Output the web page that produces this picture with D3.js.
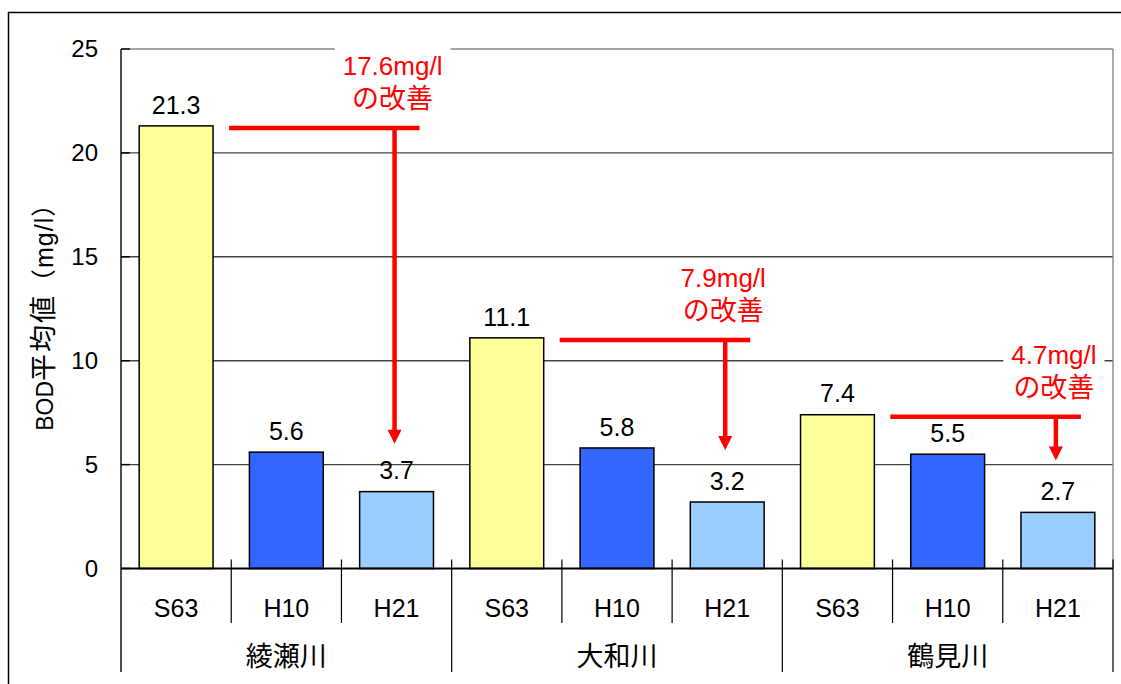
<!DOCTYPE html>
<meta charset="utf-8">
<style>
    body { margin: 0; background: #fff; }
    text { font-family: "Liberation Sans", "Noto Sans CJK JP", sans-serif; fill: #000; }
</style>

<svg width="1121" height="684"></svg>

<script src="https://d3js.org/d3.v7.min.js"></script>

<script>
// BOD averages by river and year
var rivers = ["綾瀬川", "大和川", "鶴見川"];
var years = ["S63", "H10", "H21"];
var ayase = [21.3, 5.6, 3.7];
var yamato = [11.1, 5.8, 3.2];
var tsurumi = [7.4, 5.5, 2.7];
var yearColors = ["#ffff99", "#3366ff", "#99ccff"];
var yTicks = [0, 5, 10, 15, 20, 25];

// improvement callouts: label, level of the bar line, arrow tip level
var gainLabels = ["17.6mg/l", "7.9mg/l", "4.7mg/l"];
var gainFrom = [21.2, 11.0, 7.3];
var gainTo = [6.0, 5.7, 5.2];

var series = [ayase, yamato, tsurumi];
var rows = [];
rivers.forEach(function(r, i) {
    years.forEach(function(y, j) {
        rows.push({ river: r, year: y, value: series[i][j] });
    });
});

// note: "top" is a reserved window global, so use plot* names
var plotL = 121, plotR = 1113, plotT = 49, plotB = 568.5;

var x0 = d3.scaleBand().domain(rivers).range([plotL, plotR]);
var x1 = d3.scaleBand().domain(years).range([0, x0.bandwidth()])
    .paddingInner(0.33).paddingOuter(0.165);
var step = x0.bandwidth() / years.length;
var y = d3.scaleLinear().domain([0, 25]).range([plotB, plotT]);
var color = d3.scaleOrdinal().domain(years).range(yearColors);

var svg = d3.select("svg");

// outer frame
svg.append("rect")
    .attr("x", 8.5).attr("y", 12.5)
    .attr("width", 1140).attr("height", 700)
    .attr("fill", "none").attr("stroke", "#000").attr("stroke-width", 1.5);

// grid
svg.append("g")
    .selectAll("line")
    .data(yTicks.slice(1))
    .enter().append("line")
    .attr("x1", plotL).attr("x2", plotR)
    .attr("y1", function(d) { return y(d); })
    .attr("y2", function(d) { return y(d); })
    .attr("stroke", function(d) { return d === 25 ? "#888" : "#444"; })
    .attr("stroke-width", 1.4);

svg.append("line")
    .attr("x1", plotR).attr("x2", plotR)
    .attr("y1", plotT).attr("y2", plotB)
    .attr("stroke", "#888").attr("stroke-width", 1.4);

// y tick labels + inner ticks
svg.append("g")
    .selectAll("text")
    .data(yTicks)
    .enter().append("text")
    .attr("x", 98)
    .attr("y", function(d) { return y(d); })
    .attr("dy", "0.35em")
    .attr("text-anchor", "end")
    .style("font-size", "24px")
    .text(function(d) { return d; });

svg.append("g")
    .selectAll("line")
    .data(yTicks)
    .enter().append("line")
    .attr("x1", plotL).attr("x2", plotL + 9)
    .attr("y1", function(d) { return y(d); })
    .attr("y2", function(d) { return y(d); })
    .attr("stroke", "#000").attr("stroke-width", 1.4);

var yTitle = svg.append("text")
    .attr("transform", "translate(45," + ((plotT + plotB) / 2 + 2) + ") rotate(-90)")
    .attr("text-anchor", "middle")
    .attr("dy", "0.35em")
    .style("font-size", "23px");
yTitle.append("tspan").text("BOD");
yTitle.append("tspan").style("font-size", "27px").style("letter-spacing", "2px").text("平均値");
yTitle.append("tspan").style("font-size", "25px").style("letter-spacing", "1px").text("（mg/l）");

// callouts (drawn before bars so their white backing only hides grid)
var notes = svg.append("g");
rivers.forEach(function(r, i) {
    var cx = x0(r) + x1("H21") + x1.bandwidth() / 2 - 2;
    var xs = x0(r) + x1("S63") + x1.bandwidth() + 16;
    var ly = y(gainFrom[i]);
    var tip = y(gainTo[i]);

    var lab = notes.append("g");
    var box = lab.append("rect").attr("fill", "#fff");
    var t1 = lab.append("text")
        .attr("x", cx - 2).attr("y", ly - 62).attr("dy", "0.35em")
        .attr("text-anchor", "middle")
        .style("font-size", "26px").style("fill", "#ff0000")
        .text(gainLabels[i]);
    var t2 = lab.append("text")
        .attr("x", cx - 2).attr("y", ly - 29).attr("dy", "0.35em")
        .attr("text-anchor", "middle")
        .style("font-size", "27px").style("fill", "#ff0000")
        .text("の改善");
    var b1 = t1.node().getBBox(), b2 = t2.node().getBBox();
    var bx = Math.min(b1.x, b2.x) - 8, bx2 = Math.max(b1.x + b1.width, b2.x + b2.width) + 8;
    box.attr("x", bx).attr("width", bx2 - bx)
        .attr("y", b1.y - 5).attr("height", (b2.y + b2.height) - b1.y + 5);

    notes.append("line")
        .attr("x1", xs).attr("x2", cx + 25)
        .attr("y1", ly).attr("y2", ly)
        .attr("stroke", "#ff0000").attr("stroke-width", 4.5);
    notes.append("line")
        .attr("x1", cx).attr("x2", cx)
        .attr("y1", ly).attr("y2", tip - 12)
        .attr("stroke", "#ff0000").attr("stroke-width", 4.5);
    notes.append("path")
        .attr("d", "M" + (cx - 7) + "," + (tip - 14) + "L" + (cx + 7) + "," + (tip - 14) + "L" + cx + "," + tip + "Z")
        .attr("fill", "#ff0000");
});

// bars
svg.append("g")
    .selectAll("rect")
    .data(rows)
    .enter().append("rect")
    .attr("x", function(d) { return x0(d.river) + x1(d.year); })
    .attr("y", function(d) { return y(d.value); })
    .attr("width", x1.bandwidth())
    .attr("height", function(d) { return plotB - y(d.value); })
    .attr("fill", function(d) { return color(d.year); })
    .attr("stroke", "#000").attr("stroke-width", 1.5);

svg.append("g")
    .selectAll("text")
    .data(rows)
    .enter().append("text")
    .attr("x", function(d) { return x0(d.river) + x1(d.year) + x1.bandwidth() / 2; })
    .attr("y", function(d) { return y(d.value) - 21; })
    .attr("dy", "0.35em")
    .attr("text-anchor", "middle")
    .style("font-size", "25px")
    .text(function(d) { return d.value.toFixed(1); });

// axes
svg.append("line")
    .attr("x1", plotL).attr("x2", plotL).attr("y1", plotT).attr("y2", 672)
    .attr("stroke", "#000").attr("stroke-width", 1.4);
svg.append("line")
    .attr("x1", plotL).attr("x2", plotR).attr("y1", plotB).attr("y2", plotB)
    .attr("stroke", "#000").attr("stroke-width", 2);

// category dividers
var ticks = svg.append("g").attr("stroke", "#000").attr("stroke-width", 1.2);
rivers.forEach(function(r, i) {
    [1, 2].forEach(function(k) {
        ticks.append("line")
            .attr("x1", x0(r) + k * step).attr("x2", x0(r) + k * step)
            .attr("y1", plotB - 9).attr("y2", 623);
    });
    var gx = i < rivers.length - 1 ? x0(rivers[i + 1]) : plotR;
    ticks.append("line")
        .attr("x1", gx).attr("x2", gx)
        .attr("y1", plotB - 9).attr("y2", 672);
});

svg.append("g")
    .selectAll("text")
    .data(rows)
    .enter().append("text")
    .attr("x", function(d) { return x0(d.river) + x1(d.year) + x1.bandwidth() / 2; })
    .attr("y", 608)
    .attr("dy", "0.35em")
    .attr("text-anchor", "middle")
    .style("font-size", "25px")
    .text(function(d) { return d.year; });

svg.append("g")
    .selectAll("text")
    .data(rivers)
    .enter().append("text")
    .attr("x", function(d) { return x0(d) + x0.bandwidth() / 2; })
    .attr("y", 657)
    .attr("dy", "0.35em")
    .attr("text-anchor", "middle")
    .style("font-size", "27px")
    .text(function(d) { return d; });
</script>
